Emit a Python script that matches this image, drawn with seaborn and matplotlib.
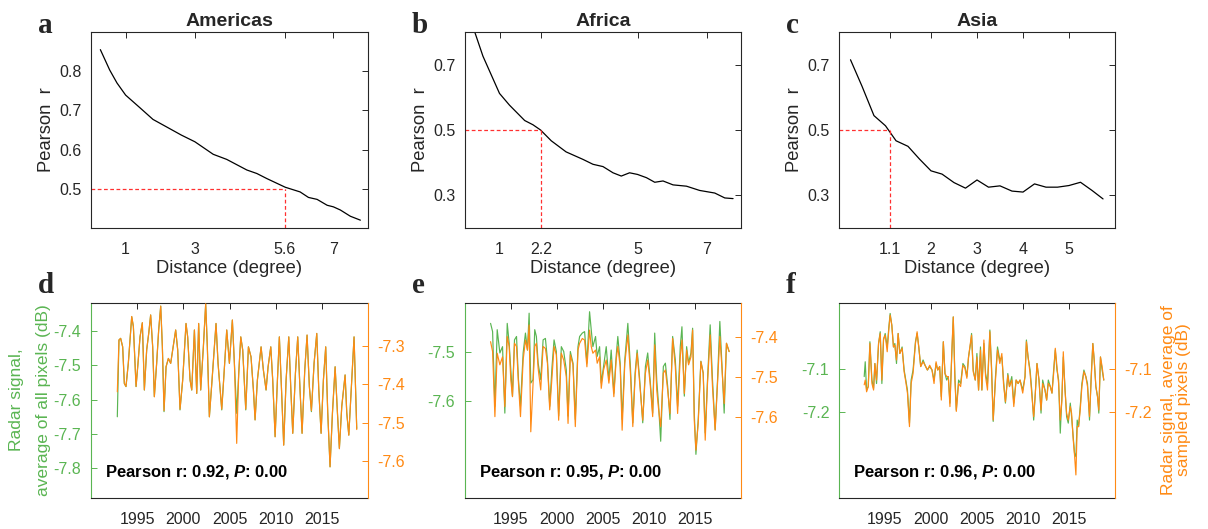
import numpy as np
import seaborn as sns
import matplotlib.pyplot as plt

# ---- top row: Pearson r vs distance ----
regions = ["Americas", "Africa", "Asia"]
am_dist = [0.27, 0.4, 0.54, 0.75, 1.0, 1.41, 1.79, 2.18, 2.61, 3.0, 3.53, 3.92, 4.5, 4.79,
           5.08, 5.61, 6.04, 6.28, 6.53, 6.82, 7.0, 7.2, 7.49, 7.78]
am_r = [0.855, 0.83, 0.803, 0.77, 0.739, 0.707, 0.677, 0.658, 0.637, 0.62, 0.588, 0.575,
        0.548, 0.539, 0.526, 0.504, 0.492, 0.478, 0.473, 0.458, 0.454, 0.446, 0.43, 0.42]
af_dist = [0.25, 0.52, 1.0, 1.29, 1.73, 1.97, 2.19, 2.5, 2.93, 3.42, 3.71, 4.0, 4.29, 4.53,
           4.77, 5.0, 5.26, 5.5, 5.74, 6.03, 6.42, 6.8, 7.24, 7.53, 7.77]
af_r = [0.81, 0.726, 0.612, 0.576, 0.529, 0.516, 0.5, 0.467, 0.433, 0.41, 0.395, 0.388,
        0.369, 0.359, 0.369, 0.364, 0.354, 0.34, 0.344, 0.332, 0.328, 0.315, 0.307, 0.292, 0.29]
as_dist = [0.25, 0.5, 0.76, 1.01, 1.24, 1.5, 1.75, 2.0, 2.24, 2.5, 2.75, 3.0, 3.25, 3.5,
           3.76, 4.0, 4.25, 4.5, 4.75, 5.0, 5.25, 5.5, 5.74]
as_r = [0.715, 0.634, 0.544, 0.513, 0.467, 0.45, 0.411, 0.375, 0.365, 0.339, 0.322, 0.347,
        0.325, 0.329, 0.313, 0.31, 0.335, 0.325, 0.325, 0.33, 0.34, 0.315, 0.289]
cross_dist = [5.6, 2.2, 1.1]
r_threshold = 0.5
top_xticks = [[1, 3, 5.6, 7], [1, 2.2, 5, 7], [1.1, 2, 3, 4, 5]]
top_xticklabels = [["1", "3", "5.6", "7"], ["1", "2.2", "5", "7"], ["1.1", "2", "3", "4", "5"]]
top_yticks = [[0.5, 0.6, 0.7, 0.8], [0.3, 0.5, 0.7], [0.3, 0.5, 0.7]]
top_xlim = [(0, 8), (0, 8), (0, 6)]
top_ylim = [(0.4, 0.9), (0.2, 0.8), (0.2, 0.8)]

# ---- bottom row: radar signal time series ----
d_year = [1992.85, 1993.03, 1993.21, 1993.43, 1993.61, 1993.79, 1994.04, 1994.41, 1994.59, 1994.88,
          1995.09, 1995.31, 1995.56, 1995.78, 1996.03, 1996.25, 1996.46, 1996.68, 1996.86, 1997.11,
          1997.33, 1997.55, 1997.73, 1997.91, 1998.13, 1998.38, 1998.63, 1999.17, 1999.39, 1999.64,
          1999.93, 2000.29, 2000.47, 2000.73, 2000.91, 2001.2, 2001.45, 2001.66, 2001.88, 2002.17,
          2002.42, 2002.6, 2002.82, 2003.11, 2003.54, 2003.76, 2004.16, 2004.41, 2004.7, 2004.99,
          2005.31, 2005.53, 2005.78, 2006.0, 2006.22, 2006.43, 2006.76, 2007.05, 2007.33, 2007.59,
          2007.77, 2008.02, 2008.42, 2008.67, 2008.96, 2009.18, 2009.47, 2009.68, 2009.94, 2010.19,
          2010.4, 2010.62, 2010.87, 2011.13, 2011.42, 2011.63, 2011.85, 2012.14, 2012.39, 2012.64,
          2012.86, 2013.15, 2013.4, 2013.65, 2013.87, 2014.16, 2014.45, 2014.67, 2014.92, 2015.17,
          2015.42, 2015.64, 2015.89, 2016.15, 2016.44, 2016.69, 2016.9, 2017.16, 2017.52, 2017.7,
          2017.92, 2018.24, 2018.49, 2018.78]
d_all = [-7.65, -7.426, -7.421, -7.446, -7.553, -7.562, -7.494, -7.358, -7.387, -7.562,
         -7.494, -7.417, -7.376, -7.572, -7.455, -7.407, -7.353, -7.446, -7.591, -7.494,
         -7.397, -7.327, -7.446, -7.635, -7.504, -7.48, -7.494, -7.397, -7.455, -7.63,
         -7.543, -7.378, -7.417, -7.543, -7.572, -7.397, -7.582, -7.378, -7.572, -7.446,
         -7.321, -7.446, -7.65, -7.543, -7.378, -7.494, -7.63, -7.523, -7.397, -7.494,
         -7.368, -7.494, -7.64, -7.523, -7.417, -7.455, -7.63, -7.446, -7.475, -7.572,
         -7.659, -7.543, -7.446, -7.514, -7.572, -7.504, -7.446, -7.543, -7.708, -7.543,
         -7.417, -7.562, -7.732, -7.543, -7.417, -7.562, -7.698, -7.523, -7.417, -7.572,
         -7.698, -7.514, -7.412, -7.562, -7.635, -7.494, -7.407, -7.572, -7.698, -7.543,
         -7.446, -7.64, -7.796, -7.64, -7.504, -7.64, -7.742, -7.62, -7.528, -7.64,
         -7.703, -7.543, -7.417, -7.684]
d_sampled = [-7.42, -7.285, -7.281, -7.303, -7.398, -7.406, -7.346, -7.224, -7.25, -7.406,
             -7.346, -7.277, -7.24, -7.415, -7.311, -7.268, -7.22, -7.303, -7.433, -7.346,
             -7.259, -7.197, -7.303, -7.469, -7.355, -7.333, -7.346, -7.259, -7.311, -7.465,
             -7.389, -7.242, -7.277, -7.389, -7.415, -7.259, -7.424, -7.242, -7.415, -7.303,
             -7.191, -7.303, -7.485, -7.389, -7.242, -7.346, -7.465, -7.372, -7.259, -7.346,
             -7.233, -7.346, -7.554, -7.372, -7.277, -7.311, -7.465, -7.303, -7.329, -7.415,
             -7.493, -7.389, -7.303, -7.363, -7.415, -7.355, -7.303, -7.389, -7.537, -7.389,
             -7.277, -7.406, -7.559, -7.389, -7.277, -7.406, -7.528, -7.372, -7.277, -7.415,
             -7.528, -7.363, -7.272, -7.406, -7.469, -7.346, -7.268, -7.415, -7.528, -7.389,
             -7.303, -7.473, -7.615, -7.473, -7.355, -7.473, -7.568, -7.457, -7.376, -7.473,
             -7.533, -7.389, -7.277, -7.518]

e_year = [1992.78, 1993.00, 1993.25, 1993.50, 1993.79, 1994.08, 1994.33, 1994.59, 1994.80, 1994.98,
          1995.16, 1995.38, 1995.60, 1995.81, 1996.03, 1996.32, 1996.57, 1996.79, 1996.97, 1997.15,
          1997.40, 1997.58, 1997.76, 1997.95, 1998.23, 1998.49, 1998.74, 1998.96, 1999.21, 1999.46,
          1999.68, 1999.93, 2000.18, 2000.47, 2000.73, 2001.01, 2001.20, 2001.45, 2001.74, 2001.99,
          2002.28, 2002.46, 2002.75, 2003.00, 2003.25, 2003.54, 2003.72, 2003.90, 2004.19, 2004.37,
          2004.63, 2004.81, 2005.06, 2005.35, 2005.64, 2005.89, 2006.18, 2006.43, 2006.61, 2006.87,
          2007.08, 2007.37, 2007.70, 2007.98, 2008.24, 2008.49, 2008.71, 2008.96, 2009.32, 2009.61,
          2009.86, 2010.12, 2010.40, 2010.62, 2010.84, 2011.05, 2011.27, 2011.56, 2011.78, 2012.03,
          2012.28, 2012.57, 2012.86, 2013.11, 2013.40, 2013.58, 2013.84, 2014.09, 2014.30, 2014.56,
          2014.74, 2014.92, 2015.10, 2015.35, 2015.64, 2015.89, 2016.11, 2016.36, 2016.65, 2016.90,
          2017.19, 2017.45, 2017.70, 2017.92, 2018.17, 2018.42, 2018.71]
e_all = [-7.440, -7.457, -7.611, -7.453, -7.501, -7.488, -7.625, -7.440, -7.481, -7.536,
         -7.590, -7.474, -7.467, -7.556, -7.611, -7.501, -7.460, -7.495, -7.419, -7.563,
         -7.556, -7.453, -7.467, -7.522, -7.556, -7.474, -7.471, -7.515, -7.611, -7.529,
         -7.474, -7.498, -7.631, -7.488, -7.498, -7.536, -7.631, -7.498, -7.522, -7.638,
         -7.488, -7.467, -7.460, -7.457, -7.522, -7.416, -7.453, -7.488, -7.467, -7.508,
         -7.488, -7.563, -7.529, -7.488, -7.556, -7.495, -7.584, -7.508, -7.467, -7.522,
         -7.638, -7.515, -7.440, -7.529, -7.645, -7.542, -7.495, -7.549, -7.645, -7.529,
         -7.501, -7.556, -7.625, -7.460, -7.556, -7.611, -7.683, -7.529, -7.522, -7.570,
         -7.638, -7.467, -7.515, -7.611, -7.488, -7.447, -7.590, -7.488, -7.522, -7.501,
         -7.450, -7.625, -7.710, -7.638, -7.518, -7.542, -7.666, -7.556, -7.443, -7.556,
         -7.659, -7.556, -7.436, -7.522, -7.625, -7.481, -7.498]
e_sampled = [-7.411, -7.436, -7.599, -7.440, -7.469, -7.449, -7.574, -7.398, -7.423, -7.507,
             -7.549, -7.415, -7.423, -7.515, -7.599, -7.457, -7.407, -7.432, -7.369, -7.637,
             -7.515, -7.423, -7.415, -7.478, -7.532, -7.423, -7.428, -7.465, -7.582, -7.499,
             -7.423, -7.444, -7.608, -7.440, -7.457, -7.499, -7.616, -7.444, -7.469, -7.624,
             -7.432, -7.415, -7.403, -7.407, -7.474, -7.382, -7.423, -7.440, -7.432, -7.465,
             -7.449, -7.528, -7.482, -7.457, -7.515, -7.457, -7.549, -7.457, -7.423, -7.474,
             -7.633, -7.465, -7.394, -7.490, -7.624, -7.499, -7.440, -7.507, -7.608, -7.490,
             -7.457, -7.515, -7.599, -7.419, -7.532, -7.582, -7.624, -7.490, -7.482, -7.532,
             -7.591, -7.403, -7.474, -7.591, -7.449, -7.407, -7.541, -7.432, -7.469, -7.449,
             -7.382, -7.608, -7.683, -7.616, -7.461, -7.490, -7.658, -7.515, -7.394, -7.524,
             -7.633, -7.515, -7.398, -7.474, -7.566, -7.415, -7.436]

f_year = [1992.74, 1992.85, 1993.00, 1993.18, 1993.36, 1993.58, 1993.76, 1993.90, 1994.08, 1994.30,
          1994.48, 1994.66, 1994.84, 1995.02, 1995.24, 1995.42, 1995.56, 1995.74, 1995.92, 1996.07,
          1996.25, 1996.43, 1996.61, 1996.86, 1997.08, 1997.26, 1997.44, 1997.66, 1997.84, 1998.05,
          1998.31, 1998.49, 1998.67, 1998.88, 1999.14, 1999.35, 1999.61, 1999.86, 2000.11, 2000.33,
          2000.55, 2000.73, 2000.94, 2001.12, 2001.34, 2001.52, 2001.70, 2001.88, 2002.06, 2002.28,
          2002.42, 2002.60, 2002.75, 2003.00, 2003.22, 2003.47, 2003.69, 2003.90, 2004.08, 2004.30,
          2004.41, 2004.59, 2004.81, 2004.99, 2005.17, 2005.38, 2005.53, 2005.75, 2005.93, 2006.14,
          2006.40, 2006.58, 2006.76, 2007.01, 2007.23, 2007.48, 2007.70, 2007.88, 2008.09, 2008.35,
          2008.53, 2008.78, 2009.00, 2009.25, 2009.47, 2009.68, 2009.97, 2010.22, 2010.37, 2010.55,
          2010.77, 2010.95, 2011.16, 2011.34, 2011.52, 2011.74, 2011.96, 2012.14, 2012.39, 2012.57,
          2012.75, 2012.97, 2013.15, 2013.33, 2013.51, 2013.69, 2013.87, 2014.05, 2014.23, 2014.38,
          2014.56, 2014.74, 2014.92, 2015.14, 2015.28, 2015.46, 2015.60, 2015.75, 2015.89, 2016.04,
          2016.22, 2016.40, 2016.62, 2016.83, 2017.01, 2017.23, 2017.41, 2017.59, 2017.74, 2017.92,
          2018.10, 2018.24, 2018.42, 2018.60, 2018.78]
f_all = [-7.118, -7.084, -7.149, -7.141, -7.038, -7.126, -7.145, -7.088, -7.134, -7.042,
         -7.015, -7.134, -7.034, -7.019, -7.050, -7.004, -6.973, -7.000, -7.050, -7.042,
         -7.088, -7.019, -7.065, -7.050, -7.103, -7.126, -7.149, -7.225, -7.126, -7.103,
         -7.038, -7.019, -7.050, -7.095, -7.080, -7.092, -7.103, -7.095, -7.103, -7.126,
         -7.088, -7.103, -7.095, -7.164, -7.038, -7.111, -7.126, -7.118, -7.179, -7.061,
         -6.981, -7.118, -7.195, -7.126, -7.134, -7.088, -7.095, -7.118, -7.073, -7.042,
         -7.019, -7.103, -7.126, -7.065, -7.149, -7.050, -7.149, -7.042, -7.111, -7.134,
         -7.011, -7.095, -7.221, -7.118, -7.050, -7.080, -7.073, -7.126, -7.179, -7.111,
         -7.141, -7.118, -7.179, -7.126, -7.134, -7.126, -7.149, -7.118, -7.034, -7.073,
         -7.103, -7.149, -7.218, -7.156, -7.088, -7.126, -7.202, -7.126, -7.149, -7.172,
         -7.126, -7.141, -7.156, -7.103, -7.057, -7.103, -7.126, -7.248, -7.164, -7.073,
         -7.141, -7.210, -7.225, -7.179, -7.210, -7.256, -7.294, -7.302, -7.218, -7.233,
         -7.187, -7.134, -7.103, -7.118, -7.134, -7.218, -7.118, -7.042, -7.080, -7.141,
         -7.164, -7.202, -7.073, -7.103, -7.126]
f_sampled = [-7.137, -7.126, -7.153, -7.141, -7.042, -7.134, -7.149, -7.088, -7.126, -7.042,
             -7.019, -7.126, -7.031, -7.023, -7.061, -7.008, -6.977, -7.000, -7.050, -7.046,
             -7.080, -7.019, -7.065, -7.053, -7.107, -7.130, -7.156, -7.233, -7.134, -7.111,
             -7.042, -7.015, -7.050, -7.095, -7.084, -7.092, -7.103, -7.092, -7.103, -7.134,
             -7.084, -7.103, -7.095, -7.172, -7.038, -7.111, -7.118, -7.118, -7.187, -7.050,
             -6.981, -7.126, -7.198, -7.134, -7.141, -7.092, -7.099, -7.122, -7.073, -7.038,
             -7.023, -7.107, -7.126, -7.073, -7.149, -7.057, -7.149, -7.034, -7.118, -7.149,
             -7.015, -7.103, -7.218, -7.126, -7.057, -7.088, -7.065, -7.134, -7.176, -7.115,
             -7.141, -7.126, -7.187, -7.126, -7.134, -7.126, -7.156, -7.118, -7.038, -7.073,
             -7.111, -7.156, -7.210, -7.156, -7.088, -7.126, -7.195, -7.134, -7.149, -7.172,
             -7.134, -7.141, -7.156, -7.111, -7.053, -7.095, -7.134, -7.218, -7.172, -7.061,
             -7.149, -7.202, -7.218, -7.187, -7.202, -7.263, -7.298, -7.344, -7.233, -7.233,
             -7.195, -7.141, -7.107, -7.118, -7.141, -7.210, -7.126, -7.042, -7.080, -7.141,
             -7.164, -7.195, -7.073, -7.095, -7.126]

pearson_r = [0.92, 0.95, 0.96]
pearson_p = [0.00, 0.00, 0.00]
year_ticks = [1995, 2000, 2005, 2010, 2015]
left_yticks = [[-7.4, -7.5, -7.6, -7.7, -7.8], [-7.5, -7.6], [-7.1, -7.2]]
right_yticks = [[-7.3, -7.4, -7.5, -7.6], [-7.4, -7.5, -7.6], [-7.1, -7.2]]
left_ylim = [(-7.887, -7.318), (-7.8, -7.398), (-7.397, -6.949)]
right_ylim = [(-7.696, -7.189), (-7.803, -7.314), (-7.397, -6.949)]

sns.set_style("white")
plt.rcParams['font.family'] = ['Liberation Sans', 'DejaVu Sans']
plt.rcParams['axes.unicode_minus'] = False
plt.rcParams['mathtext.fontset'] = 'custom'
plt.rcParams['mathtext.bf'] = 'Liberation Sans:bold'
plt.rcParams['mathtext.it'] = 'Liberation Sans:italic'
plt.rcParams['mathtext.bfit'] = 'Liberation Sans:italic:bold'

GREEN = '#5AB552'
ORANGE = '#FF8A14'
DARK = '#262626'
FS = 11.5      # tick labels
LFS = 13.2     # axis labels

fig = plt.figure(figsize=(12.08, 5.29), dpi=100)
W, H = 1208, 529
lefts = [91, 465, 839]
widths = [277, 276, 276]

top_data = [(am_dist, am_r), (af_dist, af_r), (as_dist, as_r)]
bot_data = [(d_year, d_all, d_sampled), (e_year, e_all, e_sampled), (f_year, f_all, f_sampled)]
letters_top = ['a', 'b', 'c']
letters_bot = ['d', 'e', 'f']
letter_x = [38, 412, 786]

for i in range(3):
    # top panel
    ax = fig.add_axes([lefts[i] / W, 1 - 228 / H, widths[i] / W, 196 / H])
    xs, ys = top_data[i]
    sns.lineplot(x=xs, y=ys, ax=ax, color='black', lw=0.9, estimator=None, sort=False)
    ax.set_xlim(*top_xlim[i])
    ax.set_ylim(*top_ylim[i])
    ax.hlines(r_threshold, top_xlim[i][0], cross_dist[i], colors='#FF3030', linestyles=(0, (3, 2)), lw=0.9)
    ax.vlines(cross_dist[i], top_ylim[i][0], r_threshold, colors='#FF3030', linestyles=(0, (3, 2)), lw=0.9)
    ax.set_xticks(top_xticks[i])
    ax.set_xticklabels(top_xticklabels[i])
    ax.set_yticks(top_yticks[i])
    ax.set_yticklabels([f"{v:g}" for v in top_yticks[i]])
    ax.tick_params(direction='in', length=4, width=0.7, colors=DARK, labelsize=FS,
                   top=True, right=True, pad=7)
    ax.tick_params(axis='x', pad=10)
    for s in ax.spines.values():
        s.set_color(DARK)
        s.set_linewidth(0.8)
    ax.set_xlabel("Distance (degree)", fontsize=LFS, color=DARK, labelpad=2)
    ax.set_ylabel("Pearson  r", fontsize=LFS, color=DARK, labelpad=3)
    ax.set_title(regions[i], fontsize=14, fontweight='bold', pad=4)
    fig.text(letter_x[i] / W, 1 - 33 / H, letters_top[i], fontsize=21, fontweight='bold',
             family='Liberation Serif', va='baseline')

    # bottom panel
    ax = fig.add_axes([lefts[i] / W, 1 - 498 / H, widths[i] / W, 195 / H])
    ax2 = ax.twinx()
    yr, v_all, v_smp = bot_data[i]
    sns.lineplot(x=yr, y=v_all, ax=ax, color=GREEN, lw=0.85, estimator=None, sort=False)
    sns.lineplot(x=yr, y=v_smp, ax=ax2, color=ORANGE, lw=0.85, estimator=None, sort=False)
    ax.set_xlim(1990, 2020)
    ax.set_ylim(*left_ylim[i])
    ax2.set_ylim(*right_ylim[i])
    ax.set_xticks(year_ticks)
    ax.set_xticklabels([str(y) for y in year_ticks])
    ax.set_yticks(left_yticks[i])
    ax.set_yticklabels([f"{v:g}" for v in left_yticks[i]])
    ax2.set_yticks(right_yticks[i])
    ax2.set_yticklabels([f"{v:g}" for v in right_yticks[i]])
    ax.tick_params(axis='x', direction='in', length=4, width=0.7, colors=DARK, labelsize=FS,
                   top=True, pad=10)
    ax.tick_params(axis='y', direction='in', length=4, width=0.7, colors=GREEN, labelsize=FS,
                   right=False, pad=7)
    ax2.tick_params(axis='y', direction='in', length=4, width=0.7, colors=ORANGE, labelsize=FS,
                    pad=7)
    for s in ['top', 'bottom']:
        ax.spines[s].set_color(DARK)
        ax.spines[s].set_linewidth(0.8)
    ax.spines['left'].set_color(GREEN)
    ax.spines['left'].set_linewidth(0.8)
    ax.spines['right'].set_visible(False)
    for s in ['top', 'bottom', 'left']:
        ax2.spines[s].set_visible(False)
    ax2.spines['right'].set_color(ORANGE)
    ax2.spines['right'].set_linewidth(0.8)
    ax.set_xlabel("")
    ax.set_ylabel("")
    ax2.set_ylabel("")
    ax.text(0.05, 0.135, rf"Pearson r: {pearson_r[i]:.2f}, $\mathbfit{{P}}$: {pearson_p[i]:.2f}",
            transform=ax.transAxes, fontsize=12, fontweight='bold', va='center', ha='left',
            color='black')
    fig.text(letter_x[i] / W, 1 - 293 / H, letters_bot[i], fontsize=21, fontweight='bold',
             family='Liberation Serif', va='baseline')

fig.text(30 / W, 1 - 400 / H, "Radar signal,\naverage of all pixels (dB)", color=GREEN,
         fontsize=12.5, rotation=90, ha='center', va='center', multialignment='center',
         linespacing=2.0)
fig.text(1176 / W, 1 - 400 / H, "Radar signal, average of\nsampled pixels (dB)", color=ORANGE,
         fontsize=12.5, rotation=90, ha='center', va='center', multialignment='center',
         linespacing=1.05)

fig.savefig("out.png", dpi=100)
